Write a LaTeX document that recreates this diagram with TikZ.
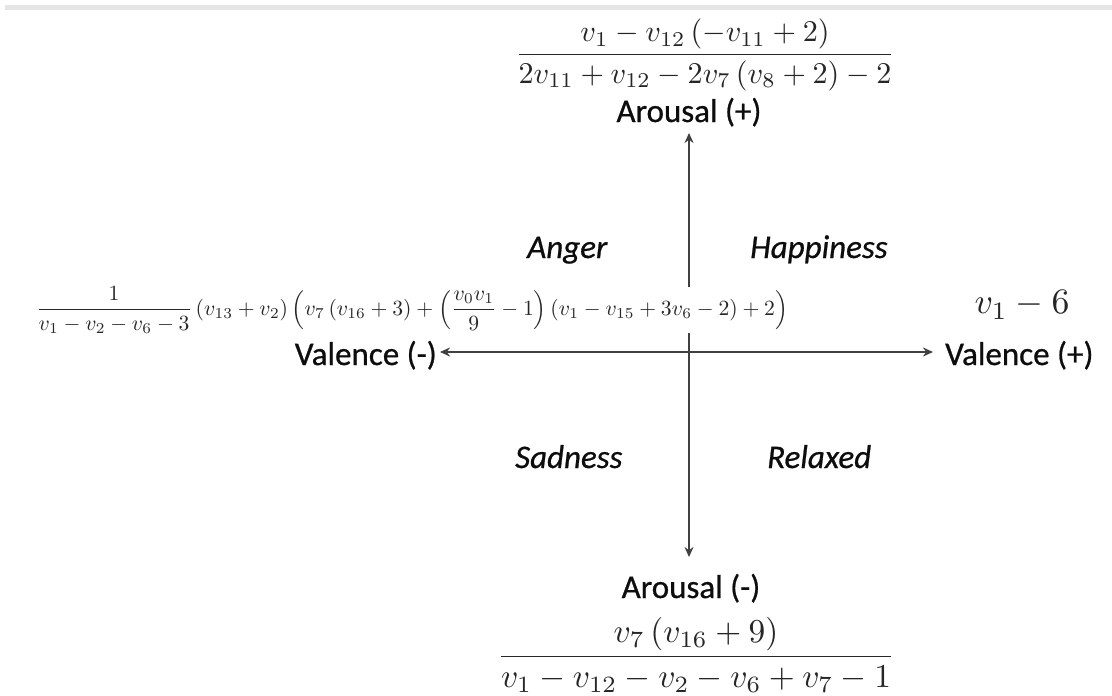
\documentclass[tikz,border=0pt]{standalone}
\usepackage[no-math]{fontspec}
\newfontfamily\labfont{Carlito}[FakeBold=0.7]
\usepackage{graphicx}
\usetikzlibrary{arrows.meta}
\begin{document}
\begin{tikzpicture}[x=1pt,y=-1pt,
  lab/.style={font=\labfont\fontsize{33}{40}\selectfont, text=black!95, inner sep=0pt},
  emo/.style={font=\labfont\itshape\fontsize{33}{40}\selectfont, text=black!95, inner sep=0pt},
  eq/.style={inner sep=0pt, fill=white, text=black!85},
  axis/.style={line width=2.2pt, draw=black!75, {Stealth[length=10pt,width=9pt]}-{Stealth[length=10pt,width=9pt]}}]
\useasboundingbox (0,0) rectangle (1112,696);
\fill[black!10] (5,5) rectangle (1112,10);
\coordinate (vt) at (689,133);
\coordinate (vb) at (689,557);
\coordinate (hl) at (440,352);
\coordinate (hr) at (933,352);
\draw[axis] (vb) -- (vt);
\draw[axis] (hl) -- (hr);
\node[lab, anchor=base] (ap) at (689,122) {Arousal (+)};
\node[lab, anchor=base] (am) at (691,598) {Arousal (-)};
\node[lab, anchor=base east] (vm) at (437,365) {Valence (-)};
\node[lab, anchor=base west] (vp) at (945,365) {Valence (+)};
\node[emo, anchor=base west] (anger) at (527,258) {Anger};
\node[emo, anchor=base west] (happy) at (750,258) {Happiness};
\node[emo, anchor=base west] (sad) at (515,468) {Sadness};
\node[emo, anchor=base west] (relax) at (767,468) {Relaxed};
\node[eq] (ftop) at (705,55) {\resizebox{380pt}{!}{$\displaystyle\frac{v_{1} - v_{12} \left(- v_{11} + 2\right)}{2 v_{11} + v_{12} - 2 v_{7} \left(v_{8} + 2\right) - 2}$}};
\node[eq] (fbot) at (696,655) {\resizebox{398pt}{!}{$\displaystyle\frac{v_{7} \left(v_{16} + 9\right)}{v_{1} - v_{12} - v_{2} - v_{6} + v_{7} - 1}$}};
\node[eq] (fleft) at (412,310) {\resizebox{752pt}{!}{$\displaystyle\frac{1}{v_{1} - v_{2} - v_{6} - 3} \left(v_{13} + v_{2}\right) \left(v_{7} \left(v_{16} + 3\right) + \left(\frac{v_{0} v_{1}}{9} - 1\right) \left(v_{1} - v_{15} + 3 v_{6} - 2\right) + 2\right)$}};
\node[eq] (fright) at (1022,305) {\resizebox{95pt}{!}{$v_{1} - 6$}};
\end{tikzpicture}
\end{document}
